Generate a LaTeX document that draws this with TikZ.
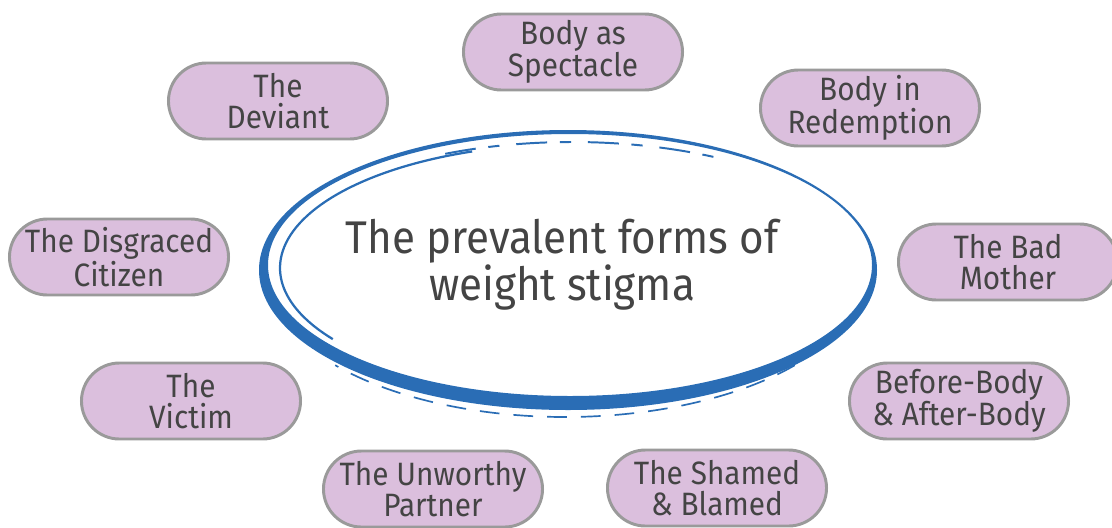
\documentclass[tikz,border=0pt]{standalone}
\usepackage{fontspec}
\setmainfont{Fira Sans}[FakeStretch=0.92]
\usetikzlibrary{positioning}
\definecolor{PillLilac}{HTML}{DBBFDD}
\definecolor{PillEdge}{HTML}{9A9A9A}
\definecolor{InkGrey}{HTML}{444444}
\definecolor{BrushBlue}{HTML}{2A6DB5}

\begin{document}
\begin{tikzpicture}[x=0.025cm,y=-0.025cm,
    pill/.style={draw=PillEdge,line width=2.1pt,fill=PillLilac,text=InkGrey,
      rounded corners=0.95cm,minimum width=5.475cm,minimum height=1.9cm,
      align=center,inner sep=0pt,font=\fontsize{23}{21.5}\selectfont}]
  \useasboundingbox (0,0) rectangle (1112,527);
  % brush ring
  \fill[BrushBlue,even odd rule]
    (568,270) ellipse [x radius=309,y radius=140]
    (570,265) ellipse [x radius=302,y radius=131];
  \draw[BrushBlue,line width=1.6pt] (572,268) ++(145:292 and 124)
    arc[start angle=145,end angle=250,x radius=292,y radius=124];
  \draw[BrushBlue,line width=1.4pt,dash pattern=on 22pt off 9pt on 8pt off 12pt]
    (572,268) ++(245:300 and 126)
    arc[start angle=245,end angle=300,x radius=300,y radius=126];
  \draw[BrushBlue,line width=1.2pt,dash pattern=on 14pt off 10pt]
    (565,272) ++(40:300 and 145)
    arc[start angle=40,end angle=140,x radius=300,y radius=145];
  \node[text=InkGrey,align=center,font=\fontsize{32.6}{33.3}\selectfont]
    (title) at (562,265) {The prevalent forms of\\weight stigma};
  % the forms
  \node[pill] (spectacle) at (573,52) {Body as\\Spectacle};
  \node[pill] (deviant) at (278,101) {The\\Deviant};
  \node[pill] (redemption) at (870,108) {Body in\\Redemption};
  \node[pill] (citizen) at (119,257) {The Disgraced\\Citizen};
  \node[pill] (mother) at (1008,262) {The Bad\\Mother};
  \node[pill] (victim) at (191,401) {The\\Victim};
  \node[pill] (beforeafter) at (959,401) {Before-Body\\\& After-Body};
  \node[pill] (partner) at (433,489) {The Unworthy\\Partner};
  \node[pill] (shamed) at (717,488) {The Shamed\\\& Blamed};
\end{tikzpicture}
\end{document}
